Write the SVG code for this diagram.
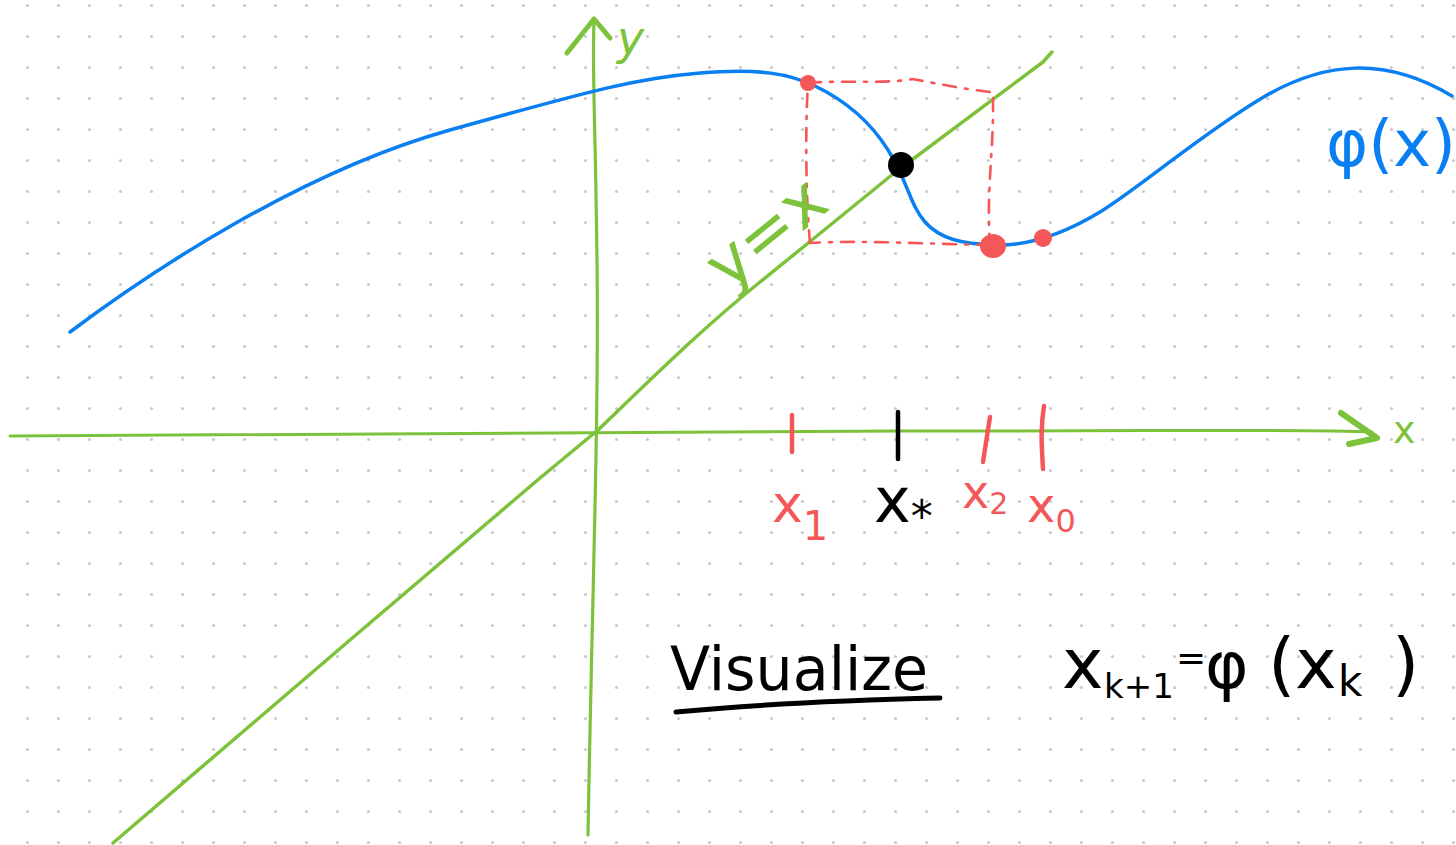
<svg xmlns="http://www.w3.org/2000/svg" width="1456" height="845" viewBox="0 0 1456 845">
<defs>
<pattern id="dots" x="0" y="0" width="31" height="31" patternUnits="userSpaceOnUse">
<circle cx="27.5" cy="5.5" r="1.6" fill="#c9c9c9"/>
</pattern>
<style>
.g{fill:none;stroke:#7cc33b;stroke-linecap:round;stroke-linejoin:round}
.b{fill:none;stroke:#0a7ff2;stroke-width:3.5;stroke-linecap:round}
.r{fill:none;stroke:#f45757;stroke-width:2.6;stroke-linecap:round;stroke-dasharray:13 9 3 9}
.rt{fill:none;stroke:#f45757;stroke-width:4.5;stroke-linecap:round}
.kt{fill:none;stroke:#000;stroke-width:4.5;stroke-linecap:round}
.t{font-family:"DejaVu Sans","Noto Sans",sans-serif}
</style>
</defs>
<rect width="1456" height="845" fill="#fff"/>
<rect width="1456" height="845" fill="url(#dots)"/>
<g id="connectors">
<path id="y-axis" class="g" stroke-width="3.2" d="M588,835 C592,600 599,420 597,260 S592,70 594,22"/>
<path class="g" stroke-width="5" d="M567,53 L594,19 L610,38"/>
<path id="x-axis" class="g" stroke-width="3" d="M10,436 C300,433 600,431 900,431 S1300,429 1372,432"/>
<path class="g" stroke-width="6" d="M1341,413 L1377,438 L1349,444"/>
<path id="y-eq-x" class="g" stroke-width="3.5" d="M113,843 L350,640 L540,478 L598,430 C640,390 700,330 760,282 L807,244 L893,174 L1043,62 L1052,52"/>
<path id="phi" class="b" d="M70,332 C150,272 300,172 450,130 S640,78 700,73 S790,74 815,86 S868,118 888,150 S910,205 925,222 S962,244 995,245 S1062,235 1100,212 S1200,135 1262,98 S1385,56 1452,96"/>
<path class="r" d="M808,83 C840,80 890,84 912,79 C930,82 950,87 990,92 M993,98 C994,150 986,190 990,245 M990,245 C930,244 860,240 810,243 M810,243 C806,200 805,130 808,83"/>
</g>
<g id="points">
<circle cx="808" cy="83" r="8" fill="#f45757"/>
<ellipse cx="993" cy="246" rx="13" ry="12" fill="#f45757"/>
<circle cx="1043" cy="238" r="9" fill="#f45757"/>
<circle cx="901" cy="165" r="13" fill="#000"/>
</g>
<g id="ticks">
<path class="rt" d="M792,415 L792,452"/>
<path class="kt" d="M898,412 L898,459"/>
<path class="rt" d="M990,417 L983,462"/>
<path class="rt" d="M1044,406 C1040,430 1042,450 1043,469"/>
</g>
<g id="labels" class="t">
<text x="617" y="54" font-size="46" fill="#7cc33b" font-style="italic">y</text>
<text x="1393" y="443" font-size="38" fill="#7cc33b">x</text>
<text transform="translate(728,292) rotate(-39)" font-size="66" fill="#7cc33b">y=x</text>
<text x="1326" y="166" font-size="64" fill="#0a7ff2">φ(x)</text>
<text x="772" y="522" font-size="52" fill="#f45757">x<tspan font-size="40" dy="18">1</tspan></text>
<text x="874" y="522" font-size="62" fill="#000">x<tspan font-size="44" dy="10">*</tspan></text>
<text x="962" y="508" font-size="46" fill="#f45757">x<tspan font-size="30" dy="6">2</tspan></text>
<text x="1027" y="522" font-size="48" fill="#f45757">x<tspan font-size="32" dy="10">0</tspan></text>
<text x="670" y="690" font-size="60" fill="#000" textLength="258" lengthAdjust="spacingAndGlyphs">Visualize</text>
<path d="M676,712 C760,704 850,700 940,698" fill="none" stroke="#000" stroke-width="5" stroke-linecap="round"/>
<text font-size="70" fill="#000"><tspan x="1062" y="688">x</tspan><tspan x="1104" y="698" font-size="34">k+1</tspan><tspan x="1176" y="670" font-size="36">=</tspan><tspan x="1205" y="688" font-size="66">φ</tspan><tspan x="1268" y="688">(x</tspan><tspan x="1338" y="696" font-size="42">k</tspan><tspan x="1392" y="688">)</tspan></text>
</g>
</svg>
